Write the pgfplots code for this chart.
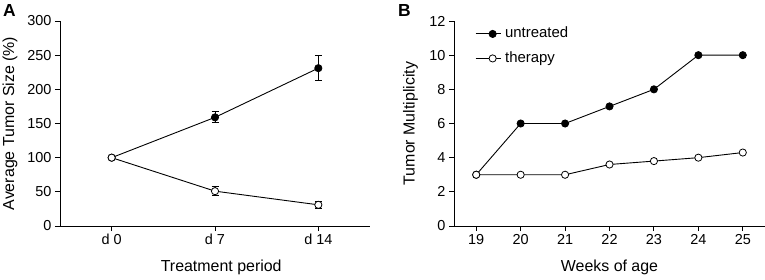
\documentclass[border=0pt]{standalone}
\usepackage{fontspec}
\setmainfont{Liberation Sans}
\usepackage{pgfplots}
\pgfplotsset{compat=1.18}
\begin{document}
\begin{tikzpicture}[x=1bp,y=1bp]
\useasboundingbox (0,0) rectangle (765,279);
\pgfplotsset{
  myaxis/.style={
    scale only axis, height=205bp,
    axis x line*=bottom, axis y line*=left,
    axis line style={line width=0.9bp, -},
    tick align=outside, major tick length=5bp,
    tick style={line width=0.9bp, black},
    /pgf/number format/assume math mode=true,
    tick label style={font=\fontsize{14.5}{17}\selectfont},
    label style={font=\fontsize{16}{19}\selectfont},
    every axis plot/.append style={line width=0.9bp, black},
    clip=false,
  },
  filledc/.style={mark=*, mark size=3.6bp, mark options={fill=black, draw=black, line width=0.8bp}},
  openc/.style={mark=*, mark size=3.6bp, mark options={fill=white, draw=black, line width=0.8bp}},
}
\begin{axis}[myaxis,
  at={(60bp,53bp)}, anchor=south west, width=310bp,
  xmin=-0.5, xmax=2.5, ymin=0, ymax=300,
  xtick={0,1,2}, xticklabels={d 0, d 7, d 14},
  ytick={0,50,100,150,200,250,300},
  xlabel={Treatment period}, ylabel={Average Tumor Size (\%)},
  xlabel style={at={(axis description cs:0.52,-0.224)}, anchor=base},
  ylabel style={at={(axis description cs:-0.161,0.5)}, anchor=center},
  error bars/error bar style={line width=0.9bp, black},
  error bars/error mark options={rotate=90, mark size=3.5bp, line width=0.9bp, black},
]
\addplot[filledc, error bars/.cd, y dir=both, y explicit] coordinates {
  (0,100) +- (0,0)
  (1,159) +- (0,8)
  (2,231) +- (0,18.5)
};
\addplot[openc, error bars/.cd, y dir=both, y explicit] coordinates {
  (0,100) +- (0,0)
  (1,51) +- (0,7)
  (2,31) +- (0,5.5)
};
\end{axis}
\begin{axis}[myaxis,
  at={(454bp,53bp)}, anchor=south west, width=311bp,
  xmin=18.5, xmax=25.5, ymin=0, ymax=12,
  xtick={19,20,21,22,23,24,25},
  ytick={0,2,4,6,8,10,12},
  xlabel={Weeks of age}, ylabel={Tumor Multiplicity},
  xlabel style={at={(axis description cs:0.5,-0.224)}, anchor=base},
  ylabel style={at={(axis description cs:-0.14,0.5)}, anchor=center},
  legend style={draw=none, fill=none, at={(0.0675,0.972)}, anchor=north west,
    font=\fontsize{15}{18}\selectfont, row sep=10.5bp, inner sep=0pt,
    nodes={inner sep=0pt, text height=11bp, text depth=3bp},
    /tikz/every odd column/.append style={column sep=4bp}},
  legend cell align=left,
  legend image code/.code={
    \draw[mark repeat=2, mark phase=2, #1] plot coordinates {(0bp,0bp) (17bp,0bp) (25bp,0bp)};
  },
]
\addplot[filledc] coordinates {
  (19,3) (20,6) (21,6) (22,7) (23,8) (24,10) (25,10)
};
\addlegendentry{untreated}
\addplot[openc] coordinates {
  (19,3) (20,3) (21,3) (22,3.6) (23,3.8) (24,4) (25,4.3)
};
\addlegendentry{therapy}
\end{axis}
\node[font=\bfseries\fontsize{17.5}{20}\selectfont, anchor=north west, inner sep=0pt] at (3,275) {A};
\node[font=\bfseries\fontsize{17.5}{20}\selectfont, anchor=north west, inner sep=0pt] at (398,275) {B};
\end{tikzpicture}
\end{document}
